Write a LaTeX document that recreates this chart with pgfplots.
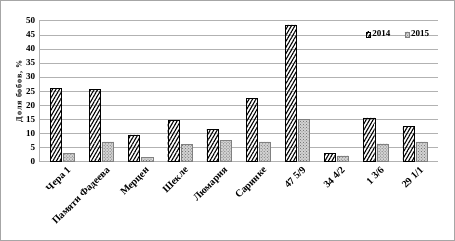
\documentclass[border=0pt]{standalone}
\usepackage{pgfplots}
\pgfplotsset{compat=1.18}
\usepackage{fontspec}
\setmainfont{Liberation Serif}
\usetikzlibrary{patterns,patterns.meta}
\begin{document}
\begin{tikzpicture}
\draw[gray!70, line width=1pt] (-38pt,-78pt) rectangle (413pt,160pt);
\begin{axis}[
  at={(0,0)}, anchor=south west,
  scale only axis,
  width=397pt, height=140pt,
  ybar, bar width=11pt,
  ymin=0, ymax=50, ytick={0,5,...,50},
  xmin=-0.6, xmax=9.6,
  xtick={0,...,9},
  xticklabels={Чера 1, Памяти Фадеева, Мерцен, Шекле, Люмария, Саринке, 47 5/9, 34 4/2, 1 3/6, 29 1/1},
  x tick label style={rotate=45, anchor=north east, font=\bfseries\normalsize, inner sep=0pt, yshift=-6pt},
  y tick label style={font=\bfseries\small},
  /pgf/number format/assume math mode=true,
  ylabel={\addfontfeature{LetterSpace=12}Доля бобов, \%},
  ylabel style={font=\bfseries\footnotesize},
  ylabel shift=-4pt,
  axis x line*=bottom, axis y line*=left,
  axis line style={gray!60},
  major tick length=0pt,
  ymajorgrids, grid style={gray!60},
  legend style={draw=none, fill=none, at={(0.99,0.96)}, anchor=north east, legend columns=2, font=\bfseries\small, /tikz/every even column/.append style={column sep=12pt}},
  legend image code/.code={\draw[#1] (0pt,-2.5pt) rectangle (4pt,2.5pt);},
]
\addplot[draw=black, pattern={Lines[angle=60,distance=3pt,line width=1.1pt]}, pattern color=black] coordinates {
(0,26) (1,25.5) (2,9.5) (3,14.5) (4,11.5) (5,22.5) (6,48.5) (7,3) (8,15.5) (9,12.5)};
\addplot[draw=gray, fill=gray!35, postaction={pattern=crosshatch dots, pattern color=gray!80!black}] coordinates {
(0,3) (1,7) (2,1.5) (3,6) (4,7.5) (5,7) (6,15) (7,2) (8,6.3) (9,7)};
\legend{2014, 2015}
\end{axis}
\end{tikzpicture}
\end{document}
